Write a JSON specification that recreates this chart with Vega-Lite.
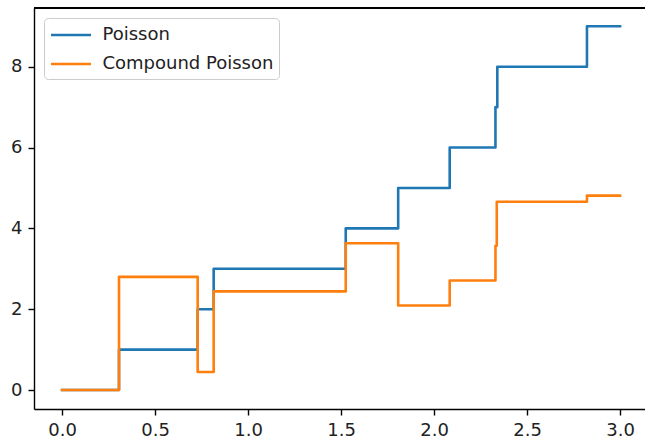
{
  "$schema": "https://vega.github.io/schema/vega-lite/v6.json",
  "width": 611,
  "height": 401,
  "autosize": "none",
  "padding": {"left": 34, "top": 8, "right": 0, "bottom": 31},
  "background": "white",
  "config": {
    "view": {"stroke": null},
    "font": "DejaVu Sans",
    "axis": {
      "grid": false,
      "domainColor": "black",
      "domainWidth": 1.4,
      "tickColor": "black",
      "tickWidth": 1.4,
      "tickSize": 6,
      "labelPadding": 6,
      "labelFont": "DejaVu Sans",
      "labelFontSize": 18,
      "labelColor": "#222222",
      "title": null
    },
    "legend": {
      "orient": "none",
      "legendX": 10,
      "legendY": 10,
      "fillColor": "rgba(255,255,255,0.8)",
      "strokeColor": "#cccccc",
      "cornerRadius": 4,
      "padding": 5.5,
      "rowPadding": 8,
      "symbolType": "M-1,0H3",
      "symbolSize": 400,
      "symbolStrokeWidth": 2.6,
      "labelOffset": 30,
      "labelLimit": 400,
      "labelFont": "DejaVu Sans",
      "labelFontSize": 18,
      "labelColor": "#222222",
      "title": null
    }
  },
  "data": {
    "values": [
      {"t": 0, "v": 0, "s": "Poisson"},
      {"t": 0.306, "v": 1, "s": "Poisson"},
      {"t": 0.729, "v": 2, "s": "Poisson"},
      {"t": 0.815, "v": 3, "s": "Poisson"},
      {"t": 1.525, "v": 4, "s": "Poisson"},
      {"t": 1.807, "v": 5, "s": "Poisson"},
      {"t": 2.084, "v": 6, "s": "Poisson"},
      {"t": 2.330, "v": 7, "s": "Poisson"},
      {"t": 2.340, "v": 8, "s": "Poisson"},
      {"t": 2.822, "v": 9, "s": "Poisson"},
      {"t": 3.0, "v": 9, "s": "Poisson"},
      {"t": 0, "v": 0, "s": "Compound Poisson"},
      {"t": 0.306, "v": 2.80, "s": "Compound Poisson"},
      {"t": 0.729, "v": 0.445, "s": "Compound Poisson"},
      {"t": 0.815, "v": 2.44, "s": "Compound Poisson"},
      {"t": 1.525, "v": 3.63, "s": "Compound Poisson"},
      {"t": 1.807, "v": 2.09, "s": "Compound Poisson"},
      {"t": 2.084, "v": 2.71, "s": "Compound Poisson"},
      {"t": 2.330, "v": 3.57, "s": "Compound Poisson"},
      {"t": 2.337, "v": 4.66, "s": "Compound Poisson"},
      {"t": 2.822, "v": 4.81, "s": "Compound Poisson"},
      {"t": 3.0, "v": 4.81, "s": "Compound Poisson"}
    ]
  },
  "layer": [
    {
      "mark": {"type": "line", "interpolate": "step-after", "strokeWidth": 2.6, "strokeCap": "square", "strokeJoin": "round", "clip": true},
      "encoding": {
        "x": {
          "field": "t", "type": "quantitative",
          "scale": {"domain": [-0.151, 3.134], "nice": false, "zero": false},
          "axis": {"values": [0, 0.5, 1, 1.5, 2, 2.5, 3], "format": ".1f"}
        },
        "y": {
          "field": "v", "type": "quantitative",
          "scale": {"domain": [-0.47, 9.453], "nice": false, "zero": false},
          "axis": {"values": [0, 2, 4, 6, 8], "format": "d"}
        },
        "color": {
          "field": "s", "type": "nominal",
          "scale": {"domain": ["Poisson", "Compound Poisson"], "range": ["#1f77b4", "#ff7f0e"]},
          "legend": {}
        },
        "order": {"field": "t", "type": "quantitative"}
      }
    },
    {
      "mark": {"type": "rule", "color": "black", "strokeWidth": 1.4},
      "encoding": {"y": {"datum": 9.453}}
    }
  ]
}
